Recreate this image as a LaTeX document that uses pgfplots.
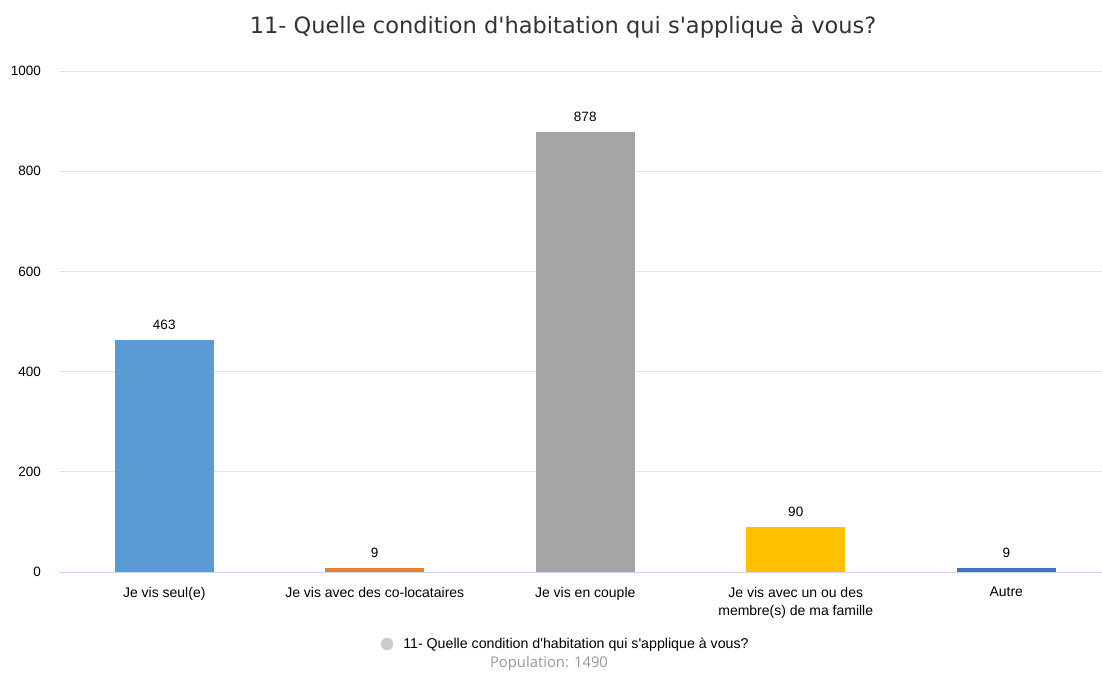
\documentclass[border=0pt]{standalone}
\usepackage{fontspec}
\setmainfont{Liberation Sans}
\newfontfamily\titlefont{DejaVu Sans}
\newfontfamily\popfont{Open Sans}
\usepackage{pgfplots}
\pgfplotsset{compat=1.18}
\definecolor{c1}{HTML}{5B9BD5}
\definecolor{c2}{HTML}{ED7D31}
\definecolor{c3}{HTML}{A5A5A5}
\definecolor{c4}{HTML}{FFC000}
\definecolor{c5}{HTML}{4472C4}
\definecolor{gridgrey}{HTML}{E6E6E6}
\definecolor{axisblue}{HTML}{CCD6EB}
\definecolor{titlegrey}{HTML}{333333}
\definecolor{popgrey}{HTML}{999999}
\definecolor{leggrey}{HTML}{CCCCCC}
\begin{document}
\begin{tikzpicture}
\useasboundingbox (0,0) rectangle (1102bp,-673bp);
\node[font=\titlefont\fontsize{22.5bp}{26bp}\selectfont, text=titlegrey, inner sep=0pt, anchor=base] at (563bp,-33bp) {11- Quelle condition d\textquotesingle habitation qui s\textquotesingle applique à vous?};
\begin{axis}[
  at={(59bp,-572bp)}, anchor=south west,
  scale only axis, width=1043bp, height=501bp,
  xmin=-0.5, xmax=4.455, ymin=0, ymax=1000,
  ytick={0,200,400,600,800,1000},
  ymajorgrids, grid style={draw=gridgrey, line width=1bp},
  axis x line*=bottom, axis y line*=left,
  x axis line style={draw=axisblue, line width=1bp},
  y axis line style={draw=none},
  xtick={0,1,2,3,4},
  xticklabels={Je vis seul(e), Je vis avec des co-locataires, Je vis en couple, {Je vis avec un ou des\\membre(s) de ma famille}, Autre},
  major tick length=0pt,
  x tick style={draw=none}, y tick style={draw=none},
  xticklabel style={font=\fontsize{14bp}{18bp}\selectfont, align=center, anchor=north, inner sep=0pt, yshift=-15bp, text=black},
  yticklabel style={font=\fontsize{13.5bp}{16bp}\selectfont, anchor=east, inner sep=0pt, xshift=-18bp, text=black},
  /pgf/number format/assume math mode=true,
  /pgf/number format/1000 sep={},
  extra x ticks={-0.5,0.5,1.5,2.5,3.5},
  extra x tick labels={},
  extra x tick style={grid=none, tick align=outside, major tick length=12bp, tick style={draw=axisblue, line width=1bp}},
  ybar, bar width=99bp, bar shift=0pt,
  nodes near coords,
  every node near coord/.append style={font=\fontsize{13.5bp}{16bp}\selectfont, text=black, anchor=south, inner sep=0pt, yshift=10bp},
  legend style={at={(0.3086,-0.1437)}, anchor=west, draw=none, fill=none, inner sep=0pt, outer sep=0pt, font=\fontsize{14.2bp}{16bp}\selectfont, nodes={inner sep=0pt}},
  legend image code/.code={\fill[leggrey] (6bp,0bp) circle (6bp);},
  /tikz/every even column/.append style={column sep=5bp},
  clip=false,
]
\addlegendimage{legend image code/.code={\fill[leggrey] (6bp,0bp) circle (6bp);}}
\addlegendentry{\hspace{10bp}11- Quelle condition d\textquotesingle habitation qui s\textquotesingle applique à vous?}
\addplot[fill=c1, draw=none, forget plot] coordinates {(0,463)};
\addplot[fill=c2, draw=none, forget plot] coordinates {(1,9)};
\addplot[fill=c3, draw=none, forget plot] coordinates {(2,878)};
\addplot[fill=c4, draw=none, forget plot] coordinates {(3,90)};
\addplot[fill=c5, draw=none, forget plot] coordinates {(4,9)};
\end{axis}
\node[font=\popfont\fontsize{14.8bp}{17bp}\selectfont, text=popgrey, inner sep=0pt, anchor=base] at (549bp,-667bp) {Population: 1490};
\end{tikzpicture}
\end{document}
